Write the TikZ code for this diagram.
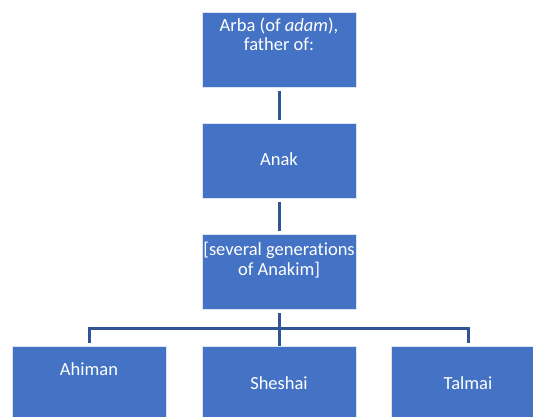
\documentclass[tikz,border=0pt]{standalone}
\usepackage{fontspec}
\setmainfont{Carlito}[Ligatures=CommonOff]
\definecolor{boxfill}{HTML}{4472C4}
\definecolor{boxedge}{HTML}{DCE4F2}
\definecolor{linecol}{HTML}{2F5597}
\begin{document}
\begin{tikzpicture}[x=1pt,y=-1pt,
  box/.style={draw=boxedge, line width=0.8pt, fill=boxfill, minimum width=154pt, minimum height=75pt, inner sep=0pt, anchor=north west, text=white},
  txt/.style={text=white, anchor=base, inner sep=0pt, align=center, font=\fontsize{18.5}{20}\selectfont},
  conn/.style={draw=linecol, line width=3pt, line join=miter}]
\useasboundingbox (0,0) rectangle (533,417);
\node[box] (arba) at (202,12) {};
\node[box] (anak) at (202,123) {};
\node[box] (gen) at (202,234) {};
\node[box] (ahiman) at (12,346) {};
\node[box] (sheshai) at (202,346) {};
\node[box] (talmai) at (391,346) {};
\node[txt] (t1) at (279,31.5) {Arba (of \textit{adam}),};
\node[txt] (t2) at (279,51) {father of:};
\node[txt] (t3) at (279,166) {Anak};
\node[txt] (t4) at (279,255) {[several generations};
\node[txt] (t5) at (279,275) {of Anakim]};
\node[txt] (t6) at (89,375) {Ahiman};
\node[txt] (t7) at (279,389) {Sheshai};
\node[txt] (t8) at (468,389) {Talmai};
\coordinate (bar) at (279,328);
\draw[conn, shorten <=3pt, shorten >=3pt] (arba.south) -- (anak.north);
\draw[conn, shorten <=3pt, shorten >=3pt] (anak.south) -- (gen.north);
\draw[conn, shorten <=3pt] (gen.south) -- (gen.south |- bar) -- (sheshai.north);
\draw[conn, shorten <=3pt, shorten >=3pt] (ahiman.north) -- (ahiman.north |- bar) -- (talmai.north |- bar) -- (talmai.north);
\end{tikzpicture}
\end{document}
